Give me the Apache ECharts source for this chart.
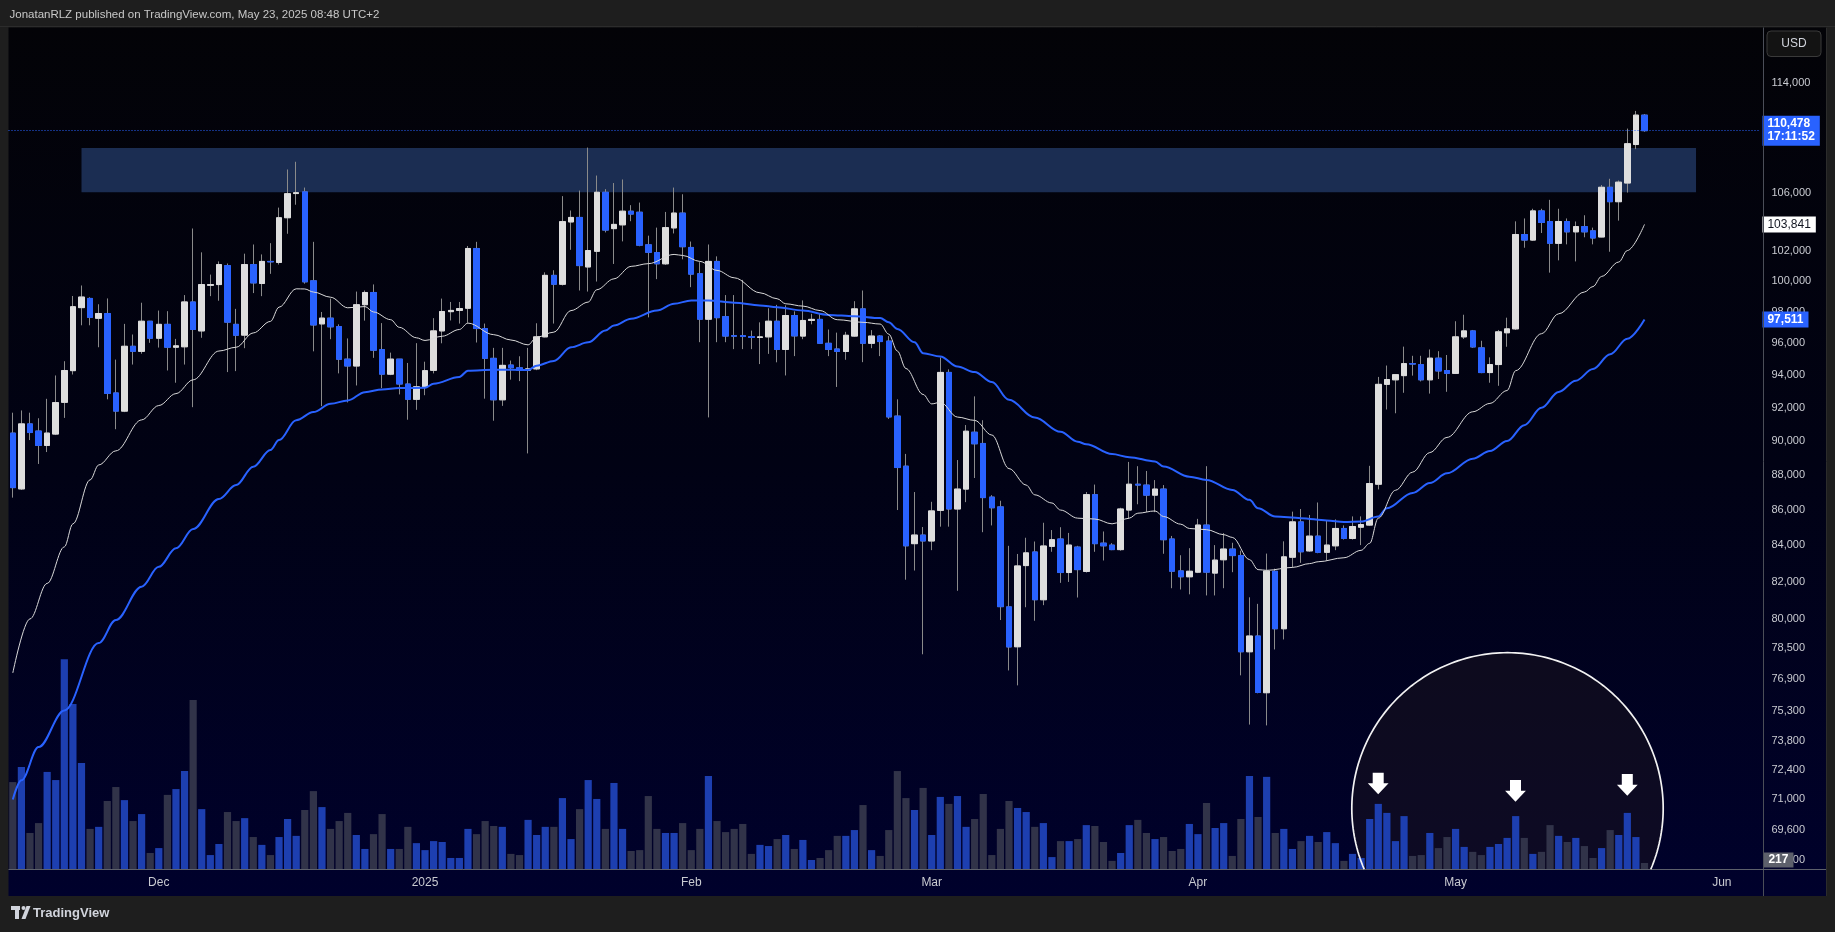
<!DOCTYPE html>
<html><head><meta charset="utf-8">
<script src="https://cdn.jsdelivr.net/npm/echarts@6/dist/echarts.min.js"></script>
<style>html,body{margin:0;padding:0;background:#1e1e1e;overflow:hidden}#c{width:1835px;height:932px}</style>
</head><body><div id="c"></div>
<script>
// ---------- DATA (BTC/USD daily) ----------
const startDate = '2024-11-14';
const dayCount = 204; // visible calendar days incl. empty space on the right
const open = [90457,87180,91009,90580,89720,90400,92315,94270,98280,98880,
97590,97900,92890,91780,95800,95480,97400,96310,97200,95740,
95770,98650,96780,99740,99790,101050,97200,96510,101120,99860,
101330,101260,104300,105980,106100,100040,97230,97600,97060,94990,
94560,98470,99270,95590,94050,94990,93440,92500,93270,94290,
96780,98020,98100,98240,102200,96930,95040,92470,94620,94450,
94300,94380,96400,100400,99810,104010,104320,100960,102010,106070,
103550,103810,104750,104680,102450,101930,101170,103600,104620,102270,
100510,97530,101330,97700,96480,96480,96420,96360,96400,97400,
95600,97770,96450,97450,97520,95990,95630,95470,96450,98200,
95990,96450,96130,91480,88500,84080,84560,84230,85950,94160,
86030,87170,90510,89840,86710,86150,80640,78540,82870,83620,
81020,83930,84340,82490,83890,82550,86850,84110,84000,83750,
85970,87450,87400,86820,87170,84340,82580,82260,82510,85120,
82460,83190,83780,83420,78280,79100,76190,82560,79480,83330,
85300,83680,84500,83600,83960,84930,84370,85000,85120,87450,
93420,93700,93960,94710,94650,93700,95050,94280,94100,96400,
96780,95700,94150,94650,96660,96910,103150,102770,104770,104040,
102550,104040,103330,103690,103400,102980,106420,105410,106720,109470,
111620];
const high = [91685,91822,91685,91350,92530,93970,94860,99040,99730,98960,
98500,98880,94960,97230,96550,98600,97420,98090,98050,96270,
99100,103560,101940,100450,101330,101190,98200,101850,102470,101800,
102560,105000,107680,108230,106400,102650,98000,98870,97200,96300,
99330,99400,99800,97280,95400,95000,94750,96000,94830,97600,
98870,98650,98650,102370,102650,97250,95700,95700,94900,95170,
95700,97270,100600,100740,105800,104800,106190,109250,107250,106290,
106720,106970,105170,105350,103070,103620,104700,106400,105930,102670,
101280,102470,101670,99100,99100,100100,96800,97330,98240,98460,
98430,98040,98750,97880,97880,96870,96670,96720,98700,99400,
96830,96500,96450,92500,89220,87000,85010,86440,95090,94350,
88860,90940,92680,91230,86820,86500,83960,83510,84410,84200,
85250,84840,85000,84680,83960,87000,87430,84760,84110,86100,
88750,88500,88220,87690,87400,84510,83440,83830,85470,88500,
84000,84670,84130,83690,81150,80800,83530,82700,84210,85880,
86030,85690,86400,85400,85440,85100,85610,85610,88520,93880,
94590,94060,95780,95200,95200,95600,95490,95250,97400,97820,
96840,96150,95100,96840,97630,104050,104250,104920,104920,105540,
104920,104250,104040,104470,103620,106580,107020,106900,110630,111930,
111700];
const low = [86678,87120,90040,88630,89330,90340,91370,94030,97140,97140,
95740,92500,90690,91720,94650,95330,96020,95720,94280,93520,
94650,92020,96340,99030,98730,94180,94240,95680,99230,99030,
100500,101120,103200,105200,99850,95480,92080,96250,94100,92310,
93350,97440,95070,93190,93990,92800,91260,91860,92750,94100,
95990,97450,97250,97300,96040,92540,91200,92100,93710,93620,
89250,94300,96370,97250,99730,102110,99400,99330,99990,103290,
101160,102680,104060,102350,97650,100150,101100,103220,101470,99620,
96060,91400,96060,96060,95620,95620,95620,94680,95320,94790,
93970,95180,96250,97200,95950,95180,93260,94950,96400,94800,
95680,95180,91310,85970,82100,82600,78150,83720,85030,85030,
81500,86420,87810,84720,85100,79940,77320,76560,80620,79900,
80730,83630,81930,81980,81140,82490,83630,83150,83720,83690,
85500,86300,85850,85850,83520,81640,81570,81310,82460,81250,
81250,81640,82510,77070,74600,76160,74560,78400,78920,82760,
83020,83630,83550,83150,83720,84310,84310,84000,85080,87150,
91880,91650,92900,93960,93600,92850,93750,92960,94060,96270,
95700,94110,93520,93330,95770,96840,102250,102710,103250,100580,
101400,102480,101330,102960,102480,102960,101980,104100,106050,109140,
110400];
const close = [87253,91009,90490,89720,90457,92300,94280,98340,98970,97650,
97900,92860,91780,95800,95480,97400,96310,97200,95740,95830,
98650,96870,99790,99790,101120,97340,96500,101120,99900,101330,
101300,104300,105970,106040,99970,97160,97600,97040,94980,94560,
98470,99270,95550,94050,94990,93440,92500,93270,94270,96780,
98030,98100,98220,102200,96930,95040,92470,94600,94450,94300,
94380,96400,100400,99810,104030,104320,101050,102060,106070,103450,
103840,104750,104550,102420,101940,101170,103620,104620,102320,100480,
97530,101330,97630,96450,96440,96420,96360,96400,97400,95600,
97770,96460,97450,97520,95990,95600,95470,96500,98200,95990,
96450,96100,91430,88420,83960,84560,84230,85920,94160,86030,
87170,90570,89820,86680,86100,80650,78530,82850,83570,81020,
83950,84300,82490,84000,82650,86850,84080,83960,83750,86030,
87450,87400,86820,87170,84300,82560,82260,82560,85120,82510,
83170,83780,83420,78280,79100,76200,82570,79480,83350,85300,
83630,84500,83600,84000,84930,84370,85040,85150,87490,93420,
93720,94020,94710,94680,93700,95050,94250,94100,96400,96780,
95760,94150,94650,96720,96910,103150,102770,104770,103970,102550,
104040,103330,103690,103330,102910,106420,105410,106780,109530,111620,
110478];
const volume = [3000,3520,1250,1590,3350,3070,7230,5690,3660,1390,
1460,2350,2830,2380,1660,1900,560,730,2560,2760,
3380,5820,2070,490,870,1970,1660,1760,1110,840,
490,1110,1730,1150,2040,2690,2140,1390,1660,1940,
1180,700,1210,1900,700,700,1460,900,660,970,
940,390,390,1390,1210,1660,1490,1460,530,490,
1700,1180,1460,1460,2450,1040,2070,3070,2420,1390,
2970,1390,630,660,2520,1390,1250,1250,1590,660,
1390,3210,1660,1280,1390,1560,530,840,800,1040,
1180,700,1010,320,390,660,1150,1150,1350,2210,
660,460,1350,3380,2450,2040,2800,1180,2490,2250,
2520,1460,1730,2590,490,1390,2350,2110,1970,1460,
1590,420,970,970,1040,1520,1490,940,290,560,
1520,1700,1250,1040,1110,630,700,1560,1210,2280,
1420,1590,460,1730,3210,1800,3180,1250,1390,700,
970,1150,940,1280,900,290,530,390,1730,2250,
1940,970,1830,460,490,1250,730,1110,1390,770,
600,490,770,870,1080,1830,1080,530,600,1520,
1150,940,1080,800,390,730,1350,1180,1940,1110,
217];
// moving averages: [day index, value]
const maFast = [[0,77190],[2,80000],[4,81900],[6,83900],[7,85190],[9,87700],[10,88570],[12,89400],[15,91250],[17,92120],[19,92850],[21,93700],[24,95500],[26,95740],[28,96650],[30,97390],[31,98310],[33,99510],[34,99500],[35,99300],[37,98960],[39,98270],[41,98350],[42,98000],[44,97500],[45,97010],[47,96340],[48,96170],[50,96440],[52,96870],[53,97280],[56,96540],[58,96200],[60,95890],[61,96380],[63,96700],[65,98090],[67,98640],[68,99450],[70,100170],[72,101000],[74,101180],[77,101800],[78,101730],[80,101330],[82,100730],[84,100240],[87,99250],[89,98860],[90,98530],[92,98380],[94,98090],[96,97500],[99,97330],[101,97220],[102,96570],[103,95500],[104,94400],[106,92800],[107,92220],[108,92320],[110,91420],[112,91220],[114,90340],[116,88360],[118,87400],[119,86840],[121,86370],[122,85970],[124,85510],[126,85460],[128,85190],[130,85510],[131,85790],[133,85920],[134,85600],[136,85170],[137,84930],[139,84860],[141,84580],[142,84430],[144,83200],[145,82650],[146,82610],[149,82770],[151,82980],[152,83080],[155,83300],[157,83710],[158,84100],[159,85510],[161,87100],[163,88150],[165,89300],[167,90200],[170,91740],[172,92250],[174,93040],[175,94270],[178,96600],[180,97880],[183,99300],[184,99660],[185,100330],[187,101290],[188,102060],[190,103841]];
const maSlow = [[0,71000],[1,71900],[3,73500],[6,75300],[10,78730],[12,79940],[15,81720],[17,82800],[19,83820],[21,84900],[24,86600],[26,87400],[28,88470],[30,89450],[31,90040],[33,91230],[35,91720],[37,92230],[39,92430],[41,92940],[43,93100],[45,93190],[48,93210],[49,93460],[52,93880],[53,94270],[56,94330],[60,94310],[61,94580],[63,94880],[65,95740],[67,96050],[69,96800],[70,97120],[72,97560],[75,98090],[77,98530],[79,98750],[81,98750],[84,98600],[87,98420],[89,98310],[92,98090],[95,97810],[98,97720],[101,97610],[102,97330],[103,96900],[105,96050],[106,95360],[108,95160],[110,94530],[112,94180],[114,93560],[116,92470],[119,91390],[122,90530],[124,89940],[125,89790],[128,89210],[130,89030],[133,88780],[134,88480],[137,87890],[139,87700],[142,87120],[144,86550],[145,86070],[147,85600],[150,85510],[153,85380],[155,85300],[157,85320],[159,85600],[160,86070],[163,86950],[165,87520],[167,88080],[170,88940],[172,89390],[174,89980],[176,90930],[178,91980],[180,92950],[182,93650],[184,94370],[186,95300],[188,96280],[190,97511]];
const priceTicks = [114000,106000,102000,100000,98000,96000,94000,92000,90000,88000,86000,84000,82000,80000,78500,76900,75300,73800,72400,71000,69600,68200];
const zoneRange = [106080, 109220];
const zoneDays = [8, 196];
const lastPrice = 110478, countdown = '17:11:52';
const maFastLast = 103841, maSlowLast = 97511, lastVolume = 217;
const headerText = 'JonatanRLZ published on TradingView.com, May 23, 2025 08:48 UTC+2';
const monthNames = ['Jan','Feb','Mar','Apr','May','Jun','Jul','Aug','Sep','Oct','Nov','Dec'];

// ---------- BUILD ----------
const FONT = 'Liberation Sans, Arial, sans-serif';
const categories = [];
const d0 = new Date(startDate + 'T00:00:00Z');
for (let k = 0; k < dayCount; k++) categories.push(new Date(d0.getTime() + k * 86400000).toISOString().slice(0, 10));
const fmt = v => Number(v).toLocaleString('en-US');
const wickData = open.map((o, i) => [o, close[i], low[i], high[i]]);
const bodyData = open.map((o, i) => [o, close[i], Math.min(o, close[i]), Math.max(o, close[i])]);
const volData = volume.map((v, i) => ({ value: v, itemStyle: { color: close[i] >= open[i] ? '#1d3fb0' : '#313349' } }));
const HIDDEN = { color: 'rgba(0,0,0,0)', width: 1 };

const GL = 8.5, GR = 74.55, GTOP = 27, GBOT = 62.7;

// annotation circle (clipped at the time-axis line)
const circ = { cx: 1507.5, cy: 808.4, r: 155.7, clipY: 869.3 };
const a0 = Math.asin((circ.clipY - circ.cy) / circ.r);
const circPts = [];
for (let t = 0; t <= 160; t++) { const a = a0 - (Math.PI + 2 * a0) * t / 160; circPts.push([circ.cx + circ.r * Math.cos(a), circ.cy + circ.r * Math.sin(a)]); }
function arrow(cx, top, bottom) {
  const mid = top + (bottom - top) * 0.49, sw = 5.5, hw = 10.4;
  return { type: 'polygon', z: 20, shape: { points: [[cx - sw, top], [cx + sw, top], [cx + sw, mid], [cx + hw, mid], [cx, bottom], [cx - hw, mid], [cx - sw, mid]] }, style: { fill: '#ffffff' } };
}

const chart = echarts.init(document.getElementById('c'), null, { renderer: 'canvas', width: 1835, height: 932 });
chart.setOption({
  animation: false,
  backgroundColor: '#1e1e1e',
  textStyle: { fontFamily: FONT },
  grid: [
    { left: GL, right: GR, top: GTOP, bottom: GBOT },
    { left: GL, right: GR, top: 569.3, bottom: GBOT }
  ],
  xAxis: [
    { type: 'category', gridIndex: 0, data: categories, boundaryGap: true, show: false },
    { type: 'category', gridIndex: 1, data: categories, boundaryGap: true, z: 12,
      axisLine: { show: false }, axisTick: { show: false }, splitLine: { show: false },
      axisLabel: { color: '#c9cbd1', fontSize: 12, fontFamily: FONT, margin: 7,
        interval: (idx, v) => v.slice(8, 10) === '01',
        formatter: v => { const m = +v.slice(5, 7); return m === 1 ? v.slice(0, 4) : monthNames[m - 1]; } } }
  ],
  yAxis: [
    { type: 'log', gridIndex: 0, position: 'right', min: 67794, max: 118317, logBase: 10,
      axisLine: { show: false }, axisTick: { show: false }, splitLine: { show: false },
      axisLabel: { customValues: priceTicks, formatter: v => fmt(v), color: '#c9cbd1', fontSize: 11, fontFamily: FONT, margin: 11 } },
    { type: 'value', gridIndex: 1, min: 0, max: 10320, show: false }
  ],
  series: [
    { type: 'bar', xAxisIndex: 1, yAxisIndex: 1, data: volData, barWidth: 7.2, z: 2, silent: true,
      markLine: { silent: true, symbol: ['none', 'none'], data: [{ yAxis: lastVolume }], lineStyle: HIDDEN,
        label: { show: true, position: 'end', distance: 3, offset: [0, -3], formatter: String(lastVolume), color: '#ffffff', backgroundColor: '#5d606b', fontSize: 12, fontWeight: 'bold', fontFamily: FONT, padding: [2, 5, 1, 5] } } },
    { type: 'candlestick', name: 'wick', xAxisIndex: 0, yAxisIndex: 0, data: wickData, barWidth: 6, z: 3, silent: true,
      itemStyle: { color: 'rgba(0,0,0,0)', color0: 'rgba(0,0,0,0)', borderColor: '#8a8a8a', borderColor0: '#8a8a8a', borderWidth: 1 },
      markArea: { silent: true, itemStyle: { color: '#1b2d52' },
        data: [[{ xAxis: categories[zoneDays[0]], yAxis: zoneRange[1] }, { xAxis: categories[zoneDays[1]], yAxis: zoneRange[0] }]] } },
    { type: 'candlestick', name: 'body', xAxisIndex: 0, yAxisIndex: 0, data: bodyData, barWidth: 6, z: 4, silent: true,
      itemStyle: { color: '#dedede', color0: '#2962ff', borderColor: '#dedede', borderColor0: '#2962ff', borderWidth: 1 },
      markLine: { silent: true, symbol: ['none', 'none'], data: [{ yAxis: lastPrice }], lineStyle: { type: [1, 2], color: '#2962ff', width: 1 },
        label: { show: true, position: 'end', distance: 2, formatter: fmt(lastPrice) + '\n' + countdown, color: '#ffffff', backgroundColor: '#2962ff', fontSize: 12, fontWeight: 'bold', lineHeight: 13, fontFamily: FONT, padding: [2, 5, 2, 5] } } },
    { type: 'line', name: 'maSlow', xAxisIndex: 0, yAxisIndex: 0, data: maSlow, symbol: 'none', smooth: 0.35, smoothMonotone: 'x', z: 5, silent: true,
      lineStyle: { color: '#2962ff', width: 2 },
      markLine: { silent: true, symbol: ['none', 'none'], data: [{ yAxis: maSlowLast }], lineStyle: HIDDEN,
        label: { show: true, position: 'end', distance: 2, formatter: fmt(maSlowLast), color: '#ffffff', backgroundColor: '#2962ff', fontSize: 12, fontWeight: 'bold', fontFamily: FONT, padding: [2, 5, 2, 5] } } },
    { type: 'line', name: 'maFast', xAxisIndex: 0, yAxisIndex: 0, data: maFast, symbol: 'none', smooth: 0.35, smoothMonotone: 'x', z: 6, silent: true,
      lineStyle: { color: '#d9d9d9', width: 1 },
      markLine: { silent: true, symbol: ['none', 'none'], data: [{ yAxis: maFastLast }], lineStyle: HIDDEN,
        label: { show: true, position: 'end', distance: 2, formatter: fmt(maFastLast), color: '#131722', backgroundColor: '#ffffff', fontSize: 12, fontFamily: FONT, padding: [2, 5, 2, 5] } } }
  ],
  graphic: { elements: [
    { type: 'rect', z: -100, silent: true, shape: { x: 8.5, y: 27.5, width: 1818.5, height: 868.5 },
      style: { fill: new echarts.graphic.LinearGradient(0, 0, 0, 1, [{ offset: 0, color: '#030307' }, { offset: 0.5, color: '#010214' }, { offset: 1, color: '#00012c' }]) } },
    { type: 'line', z: -90, silent: true, shape: { x1: 0, y1: 26.5, x2: 1835, y2: 26.5 }, style: { stroke: '#2c2c2c', lineWidth: 1 } },
    { type: 'line', z: 11, silent: true, shape: { x1: 1763.5, y1: 27.5, x2: 1763.5, y2: 896 }, style: { stroke: '#4b4e58', lineWidth: 1 } },
    { type: 'line', z: 11, silent: true, shape: { x1: 8.5, y1: 869.5, x2: 1826, y2: 869.5 }, style: { stroke: '#5d606b', lineWidth: 1 } },
    { type: 'line', z: 11, silent: true, shape: { x1: 1826.5, y1: 27.5, x2: 1826.5, y2: 896 }, style: { stroke: '#2c2c2c', lineWidth: 1 } },
    { type: 'text', z: 20, silent: true, x: 9.5, y: 14.7, style: { text: headerText, fill: '#c8c8c8', font: '11.5px ' + FONT, textVerticalAlign: 'middle' } },
    { type: 'rect', z: 20, silent: true, shape: { x: 1767, y: 31, width: 54, height: 25.5, r: 4 }, style: { fill: '#131313', stroke: '#3a3a3a', lineWidth: 1 } },
    { type: 'text', z: 21, silent: true, x: 1794, y: 43.8, style: { text: 'USD', fill: '#d1d4dc', font: '12px ' + FONT, textAlign: 'center', textVerticalAlign: 'middle' } },
    { type: 'polygon', z: 1, silent: true, shape: { points: circPts }, style: { fill: 'rgba(30,24,28,0.42)' } },
    { type: 'polyline', z: 20, silent: true, shape: { points: circPts }, style: { stroke: '#f2f2f2', lineWidth: 1.7, fill: null } },
    arrow(1378.2, 772.7, 794.3),
    arrow(1515.5, 780, 801.7),
    arrow(1627.3, 774, 795.7),
    // TradingView logo at the bottom
    { type: 'rect', z: 20, silent: true, shape: { x: 11, y: 906, width: 9, height: 4 }, style: { fill: '#d1d4dc' } },
    { type: 'rect', z: 20, silent: true, shape: { x: 15, y: 906, width: 4, height: 13 }, style: { fill: '#d1d4dc' } },
    { type: 'circle', z: 20, silent: true, shape: { cx: 23.5, cy: 908, r: 2 }, style: { fill: '#d1d4dc' } },
    { type: 'polygon', z: 20, silent: true, shape: { points: [[26.5, 906], [30.5, 906], [25.5, 919], [21.5, 919]] }, style: { fill: '#d1d4dc' } },
    { type: 'text', z: 20, silent: true, x: 33, y: 913, style: { text: 'TradingView', fill: '#d1d4dc', font: '600 13px ' + FONT, textVerticalAlign: 'middle' } }
  ] }
});
</script>
</body></html>
